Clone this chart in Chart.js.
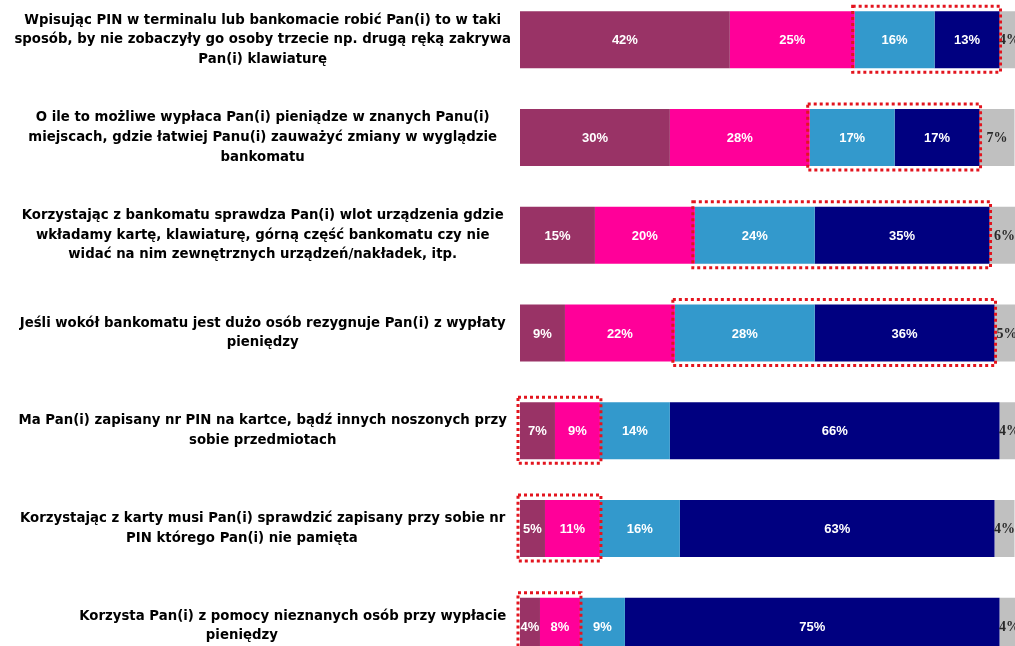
<!DOCTYPE html>
<html>
<head>
<meta charset="utf-8">
<script src="https://cdn.jsdelivr.net/npm/chart.js@4.4.1/dist/chart.umd.min.js"></script>
<style>
  html, body { margin: 0; padding: 0; background: #ffffff; overflow: hidden; width: 1015px; height: 646px; }
  #wrap { position: absolute; left: 0; top: -10px; width: 1030px; height: 700px; }
</style>
</head>
<body>
<div id="wrap"><canvas id="c" width="1030" height="700"></canvas></div>
<script>
const categories = [
  ["Wpisując PIN w terminalu lub bankomacie robić Pan(i) to w taki", "sposób, by nie zobaczyły go osoby trzecie np. drugą ręką zakrywa", "Pan(i) klawiaturę"],
  ["O ile to możliwe wypłaca Pan(i) pieniądze w znanych Panu(i)", "miejscach, gdzie łatwiej Panu(i) zauważyć zmiany w wyglądzie", "bankomatu"],
  ["Korzystając z bankomatu sprawdza Pan(i) wlot urządzenia gdzie", "wkładamy kartę, klawiaturę, górną część bankomatu czy nie", "widać na nim zewnętrznych urządzeń/nakładek, itp."],
  ["Jeśli wokół bankomatu jest dużo osób rezygnuje Pan(i) z wypłaty", "pieniędzy"],
  ["Ma Pan(i) zapisany nr PIN na kartce, bądź innych noszonych przy", "sobie przedmiotach"],
  ["Korzystając z karty musi Pan(i) sprawdzić zapisany przy sobie nr", "PIN którego Pan(i) nie pamięta         "],
  ["             Korzysta Pan(i) z pomocy nieznanych osób przy wypłacie", "pieniędzy         "]
];
const seriesNames = ["Zdecydowanie tak", "Raczej tak", "Raczej nie", "Zdecydowanie nie", "Nie wiem"];
const definitelyYes = [42, 30, 15, 9, 7, 5, 4];
const ratherYes     = [25, 28, 20, 22, 9, 11, 8];
const ratherNo      = [16, 17, 24, 28, 14, 16, 9];
const definitelyNo  = [13, 17, 35, 36, 66, 63, 75];
const dontKnow      = [4, 7, 6, 5, 4, 4, 4];
// highlighted (dotted red frame) series range per row: [first series index, last series index]
const highlightRanges = [[2, 3], [2, 3], [2, 3], [2, 3], [0, 1], [0, 1], [0, 1]];

const colors = ["#993366", "#FF0099", "#3399CC", "#000080", "#C0C0C0"];
const seriesValues = [definitelyYes, ratherYes, ratherNo, definitelyNo, dontKnow];

const valueLabels = {
  id: 'valueLabels',
  afterDatasetsDraw(chart) {
    const ctx = chart.ctx;
    ctx.save();
    ctx.textAlign = 'center';
    ctx.textBaseline = 'middle';
    chart.data.datasets.forEach((ds, di) => {
      const meta = chart.getDatasetMeta(di);
      meta.data.forEach((el, i) => {
        const cx = (el.x + el.base) / 2;
        if (di === 4) {
          ctx.fillStyle = '#2a2a2a';
          ctx.font = 'bold 14px "Liberation Serif"';
        } else {
          ctx.fillStyle = '#ffffff';
          ctx.font = 'bold 13px "Liberation Sans"';
        }
        ctx.fillText(ds.data[i] + '%', cx, el.y + 1);
      });
    });
    ctx.restore();
  }
};

const frames = {
  id: 'frames',
  afterDraw(chart) {
    const ctx = chart.ctx;
    ctx.save();
    ctx.strokeStyle = '#E3141E';
    ctx.lineWidth = 3;
    ctx.setLineDash([3, 3]);
    highlightRanges.forEach((r, i) => {
      const a = chart.getDatasetMeta(r[0]).data[i];
      const b = chart.getDatasetMeta(r[1]).data[i];
      const h = a.height;
      const left = Math.min(a.base, a.x) - 2;
      const right = Math.max(b.x, b.base) + 1;
      const top = a.y - h / 2 - 5;
      const bottom = a.y + h / 2 + 4;
      ctx.strokeRect(left, top, right - left, bottom - top);
    });
    ctx.restore();
  }
};

new Chart(document.getElementById('c'), {
  type: 'bar',
  data: {
    labels: categories,
    datasets: seriesValues.map((vals, k) => ({
      label: seriesNames[k],
      data: vals,
      backgroundColor: colors[k],
      borderWidth: 0,
      categoryPercentage: 0.583,
      barPercentage: 1
    }))
  },
  options: {
    indexAxis: 'y',
    responsive: false,
    animation: false,
    layout: { padding: { top: 1, bottom: 15, left: 0, right: 10.5 } },
    plugins: { legend: { display: false }, tooltip: { enabled: false } },
    scales: {
      x: { stacked: true, min: 0, max: 100, display: false },
      y: {
        stacked: true,
        grid: { display: false },
        border: { display: false },
        afterFit(scale) {
          scale.width = 520;
          scale.paddingTop = 0;
          scale.paddingBottom = 0;
        },
        ticks: {
          crossAlign: 'center',
          padding: 1,
          color: '#000000',
          font: { family: '"DejaVu Sans"', weight: 'bold', size: 13.3, lineHeight: 1.47 }
        }
      }
    }
  },
  plugins: [valueLabels, frames]
});
</script>
</body>
</html>
